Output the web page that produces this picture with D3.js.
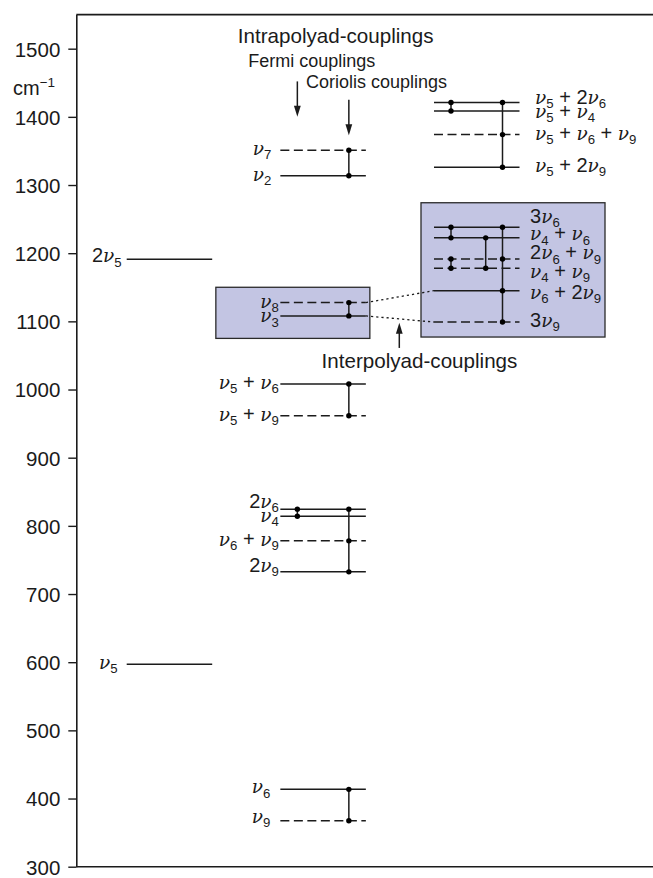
<!DOCTYPE html>
<html>
<head>
<meta charset="utf-8">
<script src="https://cdn.jsdelivr.net/npm/d3@7"></script>
<style>
  body { margin: 0; background: #fff; }
  svg { display: block; }
</style>
</head>
<body>
<svg id="chart" width="653" height="878"></svg>
<script>
// Vibrational energy levels (cm^-1) grouped into polyads, with their couplings.
const tickValues = [300, 400, 500, 600, 700, 800, 900, 1000, 1100, 1200, 1300, 1400, 1500];

const levelNames = [
  "ν_5", "2ν_5",
  "ν_9", "ν_6", "2ν_9", "ν_6 + ν_9", "ν_4", "2ν_6", "ν_5 + ν_9", "ν_5 + ν_6",
  "ν_3", "ν_8", "ν_2", "ν_7",
  "3ν_9", "ν_6 + 2ν_9", "ν_4 + ν_9", "2ν_6 + ν_9", "ν_4 + ν_6", "3ν_6",
  "ν_5 + 2ν_9", "ν_5 + ν_6 + ν_9", "ν_5 + ν_4", "ν_5 + 2ν_6"
];
const levelValues = [
  597, 1191,
  367.5, 413.5, 732.5, 778, 814, 824.5, 961.5, 1008,
  1108, 1127.5, 1313.5, 1351,
  1099, 1145, 1178, 1191.5, 1222.5, 1238,
  1326, 1374, 1408.5, 1421
];
const levelColumns = [
  0, 0,
  1, 1, 1, 1, 1, 1, 1, 1,
  1, 1, 1, 1,
  2, 2, 2, 2, 2, 2,
  2, 2, 2, 2
];
const levelDashed = [
  false, false,
  true, false, false, true, false, false, true, false,
  false, true, false, true,
  true, false, true, true, false, false,
  false, true, false, false
];

// Couplings: kind of coupling and the levels it links
const couplingKinds = [
  "coriolis", "fermi", "coriolis", "coriolis", "coriolis", "coriolis",
  "fermi", "fermi", "mixed", "coriolis",
  "fermi", "coriolis"
];
const couplingMembers = [
  ["ν_6", "ν_9"],
  ["2ν_6", "ν_4"],
  ["2ν_6", "ν_6 + ν_9", "2ν_9"],
  ["ν_5 + ν_6", "ν_5 + ν_9"],
  ["ν_8", "ν_3"],
  ["ν_7", "ν_2"],
  ["3ν_6", "ν_4 + ν_6"],
  ["2ν_6 + ν_9", "ν_4 + ν_9"],
  ["ν_4 + ν_6", "ν_4 + ν_9"],
  ["3ν_6", "2ν_6 + ν_9", "ν_6 + 2ν_9", "3ν_9"],
  ["ν_5 + 2ν_6", "ν_5 + ν_4"],
  ["ν_5 + 2ν_6", "ν_5 + ν_6 + ν_9", "ν_5 + 2ν_9"]
];

// Inter-polyad links between the two shaded polyads
const interpolyadFrom = ["ν_8", "ν_3"];
const interpolyadTo = ["ν_6 + 2ν_9", "3ν_9"];

// Shaded polyad boxes (energy span)
const boxColumns = [1, 2];
const boxLow = [1075, 1077];
const boxHigh = [1150, 1274];

// ---------------------------------------------------------------------------
const svg = d3.select("#chart");
const SANS = "'Liberation Sans', Arial, Helvetica, sans-serif";
const SERIF = "'DejaVu Serif', 'Liberation Serif', serif";
const INK = "#1b1b1b";

const y = d3.scaleLinear().domain([300, 1550]).range([866.7, 14.6]);
const axisX = 76.3;
const rightEdge = 653;
const xCol = d3.scaleLinear().domain([0, 2]).range([126.7, 434]);
const levelWidth = 85.5;
const linkOffset = { fermi: 17, mixed: 51.7, coriolis: 68.5 };

const boxLeft = [-64.5, -13];
const boxRight = [89.5, 171];

// label placement: gap from the line and vertical nudge of the baseline
const labelGap = {
  "ν_5": 9, "2ν_5": 5, "ν_9": 10, "ν_6": 10, "ν_2": 9, "ν_7": 9,
  "ν_3": 1.5, "ν_8": 1.5,
  "3ν_9": 10.5, "ν_6 + 2ν_9": 10.5, "ν_4 + ν_9": 10.5, "2ν_6 + ν_9": 10.5,
  "ν_4 + ν_6": 10.5, "3ν_6": 10.5,
  "ν_5 + 2ν_9": 15.5, "ν_5 + ν_6 + ν_9": 15.5, "ν_5 + ν_4": 15.5, "ν_5 + 2ν_6": 15.5
};
const labelNudge = {
  "2ν_5": -2, "ν_3": 1.5, "ν_9": -2.5, "ν_6": -1,
  "2ν_6": -6.5, "ν_4": 0.5, "2ν_9": -5,
  "ν_5 + 2ν_6": -4, "ν_5 + ν_4": 1.5,
  "3ν_6": -9.5, "ν_4 + ν_6": -2.5, "2ν_6 + ν_9": -4.5, "ν_4 + ν_9": 5, "ν_6 + 2ν_9": 3
};

const levels = levelNames.map((name, i) => ({
  name, value: levelValues[i], col: levelColumns[i], dashed: levelDashed[i]
}));
const byName = new Map(levels.map(d => [d.name, d]));

// ---- frame and axis ----
const axis = d3.axisLeft(y).tickValues(tickValues).tickFormat(d3.format("d"))
  .tickSize(8).tickPadding(8).tickSizeOuter(0);
const gAxis = svg.append("g").attr("transform", `translate(${axisX},0)`).call(axis);
gAxis.select(".domain").attr("stroke", INK).attr("stroke-width", 1.6);
gAxis.selectAll(".tick line").attr("stroke", INK).attr("stroke-width", 1.4);
gAxis.selectAll(".tick text")
  .attr("font-family", SANS).attr("font-size", 20.5).attr("fill", INK).attr("dy", "0.36em");

svg.append("line")
  .attr("x1", axisX).attr("x2", rightEdge).attr("y1", y(1550)).attr("y2", y(1550))
  .attr("stroke", INK).attr("stroke-width", 1.6);
svg.append("line")
  .attr("x1", axisX).attr("x2", rightEdge).attr("y1", y(300)).attr("y2", y(300))
  .attr("stroke", INK).attr("stroke-width", 1.6);

const unit = svg.append("text")
  .attr("x", 13).attr("y", y(1450) + 12.5)
  .attr("font-family", SANS).attr("font-size", 20).attr("fill", INK);
unit.append("tspan").text("cm");
unit.append("tspan").attr("font-size", 13.5).attr("dy", -8).text("−1");

// ---- shaded polyad boxes ----
svg.append("g").selectAll("rect")
  .data(boxColumns.map((c, i) => ({ c, lo: boxLow[i], hi: boxHigh[i], i })))
  .join("rect")
  .attr("x", d => xCol(d.c) + boxLeft[d.i])
  .attr("width", d => boxRight[d.i] - boxLeft[d.i])
  .attr("y", d => y(d.hi))
  .attr("height", d => y(d.lo) - y(d.hi))
  .attr("fill", "#c3c5e3")
  .attr("stroke", "#2a2a2a")
  .attr("stroke-width", 1.3);

// ---- inter-polyad dotted connectors ----
svg.append("g").selectAll("line")
  .data(interpolyadFrom.map((a, i) => [byName.get(a), byName.get(interpolyadTo[i])]))
  .join("line")
  .attr("x1", d => xCol(d[0].col) + levelWidth)
  .attr("y1", d => y(d[0].value))
  .attr("x2", d => xCol(d[1].col))
  .attr("y2", d => y(d[1].value))
  .attr("stroke", INK).attr("stroke-width", 1.3)
  .attr("stroke-dasharray", "2.2,3");

// ---- energy levels ----
svg.append("g").selectAll("line")
  .data(levels)
  .join("line")
  .attr("x1", d => xCol(d.col))
  .attr("x2", d => xCol(d.col) + levelWidth)
  .attr("y1", d => y(d.value))
  .attr("y2", d => y(d.value))
  .attr("stroke", INK)
  .attr("stroke-width", 1.5)
  .attr("stroke-dasharray", d => d.dashed ? "9,4.5" : null);

// ---- couplings ----
const couplings = couplingKinds.map((kind, i) => {
  const members = couplingMembers[i].map(n => byName.get(n));
  return { kind, members, col: members[0].col };
});
const gLinks = svg.append("g");
gLinks.selectAll("line")
  .data(couplings)
  .join("line")
  .attr("x1", d => xCol(d.col) + linkOffset[d.kind])
  .attr("x2", d => xCol(d.col) + linkOffset[d.kind])
  .attr("y1", d => y(d3.max(d.members, m => m.value)))
  .attr("y2", d => y(d3.min(d.members, m => m.value)))
  .attr("stroke", INK).attr("stroke-width", 1.5);
gLinks.selectAll("circle")
  .data(couplings.flatMap(c => c.members.map(m => ({ c, m }))))
  .join("circle")
  .attr("cx", d => xCol(d.c.col) + linkOffset[d.c.kind])
  .attr("cy", d => y(d.m.value))
  .attr("r", 2.7)
  .attr("fill", "#000");

// ---- level labels (ν in serif italic, digits/operators in sans) ----
const SUB_DY = 4.2;
function writeLabel(sel, label) {
  const parts = label.match(/ν|_\d|[^ν_]+/g);
  let lowered = false;
  parts.forEach(p => {
    const t = sel.append("tspan");
    if (p === "ν") {
      t.attr("font-family", SERIF).attr("font-style", "italic").attr("font-size", 18.5).text("ν");
      if (lowered) { t.attr("dy", -SUB_DY); lowered = false; }
    } else if (p[0] === "_") {
      t.attr("font-family", SANS).attr("font-size", 13.2).attr("dy", SUB_DY).text(p.slice(1));
      lowered = true;
    } else {
      t.attr("font-family", SANS).attr("font-size", 20).text(p);
      if (lowered) { t.attr("dy", -SUB_DY); lowered = false; }
    }
  });
}

levels.forEach(d => {
  const left = d.col < 2;
  const gap = labelGap[d.name] !== undefined ? labelGap[d.name] : 1.5;
  const x = left ? xCol(d.col) - gap : xCol(d.col) + levelWidth + gap;
  const t = svg.append("text")
    .attr("x", x)
    .attr("y", y(d.value) + 5 + (labelNudge[d.name] || 0))
    .attr("text-anchor", left ? "end" : "start")
    .attr("fill", INK)
    .attr("xml:space", "preserve");
  writeLabel(t, d.name);
});

// ---- annotations ----
function arrow(x, fromV, toV) {
  const y0 = y(fromV), y1 = y(toV);
  const dir = Math.sign(y1 - y0);
  const head = 11, half = 3.4;
  svg.append("line")
    .attr("x1", x).attr("x2", x).attr("y1", y0).attr("y2", y1 - dir * head + dir)
    .attr("stroke", INK).attr("stroke-width", 1.5);
  svg.append("path")
    .attr("d", `M${x},${y1} L${x - half},${y1 - dir * head} L${x + half},${y1 - dir * head} Z`)
    .attr("fill", INK);
}

svg.append("text")
  .attr("x", 335.7).attr("y", 42.7).attr("text-anchor", "middle")
  .attr("font-family", SANS).attr("font-size", 20.6).attr("fill", INK)
  .text("Intrapolyad-couplings");
svg.append("text")
  .attr("x", 248.3).attr("y", 66.7)
  .attr("font-family", SANS).attr("font-size", 18).attr("fill", INK)
  .text("Fermi couplings");
svg.append("text")
  .attr("x", 306).attr("y", 88.3)
  .attr("font-family", SANS).attr("font-size", 18).attr("fill", INK)
  .text("Coriolis couplings");
arrow(xCol(1) + linkOffset.fermi, 1452, 1400);
arrow(xCol(1) + linkOffset.coriolis, 1425, 1373);

svg.append("text")
  .attr("x", 419.5).attr("y", 368.3).attr("text-anchor", "middle")
  .attr("font-family", SANS).attr("font-size", 20.6).attr("fill", INK)
  .text("Interpolyad-couplings");
arrow(399.3, 1061, 1098);
</script>
</body>
</html>
